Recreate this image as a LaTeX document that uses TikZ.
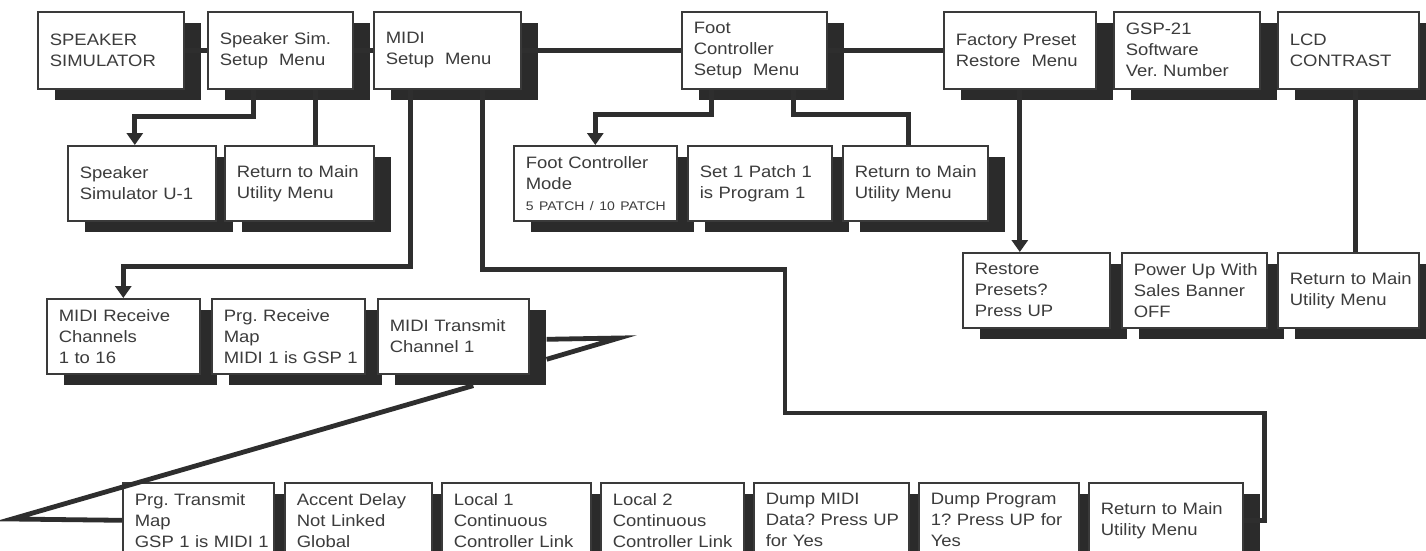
\documentclass[tikz,border=0pt]{standalone}
\usepackage{fontspec}
\setmainfont{Liberation Sans}[FakeStretch=1.12]
\usetikzlibrary{shadows,arrows.meta}
\definecolor{ink}{HTML}{2E2E2E}
\definecolor{shade}{HTML}{2B2B2B}
\definecolor{boxline}{HTML}{3A3A3A}
\definecolor{print}{HTML}{3C3C3C}
\tikzset{
  menu/.style={draw=boxline, line width=1.6pt, fill=white, text=print,
    anchor=north west, align=left, inner xsep=12pt, inner ysep=0pt,
    minimum height=75pt, font=\fontsize{16.5}{21}\selectfont,
    drop shadow={shadow xshift=17pt, shadow yshift=-11pt, fill=shade, opacity=1}},
  topmenu/.style={menu, minimum height=77pt},
  link/.style={draw=ink, line width=4.8pt},
  arr/.style={link, -{Triangle[width=16pt,length=12pt]}}
}
\begin{document}
\begin{tikzpicture}[x=1pt,y=-1pt]
\clip (0,0) rectangle (1426,550);
\fill[white] (0,0) rectangle (1426,550);
\node[topmenu, text width=122pt] (spksim) at (37,11) {SPEAKER\\SIMULATOR};
\node[topmenu, text width=121pt] (spkset) at (207,11) {Speaker~Sim.\\Setup~~Menu};
\node[topmenu, text width=123pt] (midiset) at (373,11) {MIDI\\Setup~~Menu};
\node[topmenu, text width=121pt] (footset) at (681,11) {Foot\\Controller\\Setup~~Menu};
\node[topmenu, text width=128pt] (factory) at (943,11) {Factory~Preset\\Restore~~Menu};
\node[topmenu, text width=122pt] (gsp) at (1113,11) {GSP-21\\Software\\Ver.~Number};
\node[topmenu, text width=117pt] (lcd) at (1277,11) {LCD\\CONTRAST};
\node[menu, text width=124pt] (spku1) at (67,145) {Speaker\\Simulator~U-1};
\node[menu, text width=125pt] (ret1) at (224,145) {Return~to~Main\\Utility~Menu};
\node[menu, text width=139pt] (footmode) at (513,145) {Foot~Controller\\Mode\\{\fontsize{12.5}{14}\selectfont 5~PATCH~/~10~PATCH}};
\node[menu, text width=120pt] (set1) at (687,145) {Set~1~Patch~1\\is~Program~1};
\node[menu, text width=121pt] (ret2) at (842,145) {Return~to~Main\\Utility~Menu};
\node[menu, text width=123pt] (restore) at (962,252) {Restore\\Presets?\\Press~UP};
\node[menu, text width=121pt] (powerup) at (1121,252) {Power~Up~With\\Sales~Banner\\OFF};
\node[menu, text width=117pt] (ret3) at (1277,252) {Return~to~Main\\Utility~Menu};
\node[menu, text width=129pt] (midirx) at (46,298) {MIDI~Receive\\Channels\\1~to~16};
\node[menu, text width=129pt] (prgrx) at (211,298) {Prg.~Receive\\Map\\MIDI~1~is~GSP~1};
\node[menu, text width=127pt] (midtx) at (377,298) {MIDI~Transmit\\Channel~1};
\node[menu, text width=127pt] (prgtx) at (122,482) {Prg.~Transmit\\Map\\GSP~1~is~MIDI~1};
\node[menu, text width=123pt] (accent) at (284,482) {Accent~Delay\\Not~Linked\\Global};
\node[menu, text width=125pt] (local1) at (441,482) {Local~1\\Continuous\\Controller~Link};
\node[menu, text width=119pt] (local2) at (600,482) {Local~2\\Continuous\\Controller~Link};
\node[menu, text width=131pt] (dumpmidi) at (753,482) {Dump~MIDI\\Data?~Press~UP\\for~Yes};
\node[menu, text width=136pt] (dumpprog) at (918,482) {Dump~Program\\1?~Press~UP~for\\Yes};
\node[menu, text width=130pt] (ret4) at (1088,482) {Return~to~Main\\Utility~Menu};
\coordinate (tip) at (619,338);
\coordinate (wrap) at (12,519);
\coordinate (bend) at (785,413);
\draw[link] (spksim.east) -- (spkset.west);
\draw[link] (spkset.east) -- (midiset.west);
\draw[link] (midiset.east) -- (footset.west);
\draw[link] (footset.east) -- (factory.west);
\draw[arr] ([xshift=-27pt]spkset.south) -- ++(0,27) -| ([xshift=-7pt]spku1.north);
\draw[link] ([xshift=35pt]spkset.south) -- ([xshift=35pt]spkset.south |- ret1.north);
\draw[arr] ([xshift=-37pt]midiset.south) -- ++(0,177) -| (midirx.north);
\draw[link] ([xshift=35pt]midiset.south) -- ++(0,180) -| (bend) -| ([xshift=21pt]ret4.east) -- (ret4.east);
\draw[arr] ([xshift=-43pt]footset.south) -- ++(0,25) -| (footmode.north);
\draw[link] ([xshift=39pt]footset.south) -- ++(0,25) -| ([xshift=-7pt]ret2.north);
\draw[arr] (factory.south) -- (factory.south |- restore.north);
\draw[link] ([xshift=7pt]lcd.south) -- ([xshift=7pt]lcd.south |- ret3.north);
\draw[link] ([xshift=17pt,yshift=-3pt]midtx.east) -- (tip) -- ([xshift=17pt,yshift=-23pt]midtx.east);
\draw[link] ([xshift=20pt,yshift=-11pt]midtx.south) -- (wrap) -- (prgtx.west);
\end{tikzpicture}
\end{document}
